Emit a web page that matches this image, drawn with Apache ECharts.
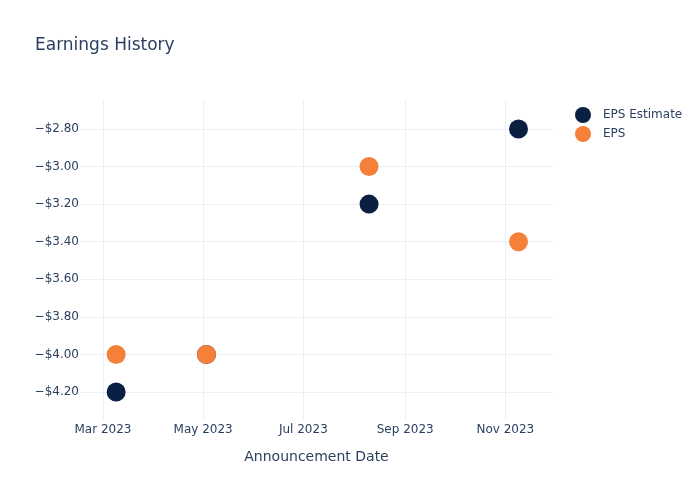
<!DOCTYPE html>
<html>
<head>
<meta charset="utf-8">
<script src="https://cdn.jsdelivr.net/npm/echarts@6/dist/echarts.min.js"></script>
<style>html,body{margin:0;padding:0;background:#fff}#c{width:700px;height:500px}</style>
</head>
<body>
<div id="c"></div>
<script>
var dates = ['2023-03-09', '2023-05-03', '2023-08-10', '2023-11-09'];
var epsEstimate = [-4.2, -4.0, -3.2, -2.8];
var eps = [-4.0, -4.0, -3.0, -3.4];
var seriesNames = ['EPS Estimate', 'EPS'];

var FONT = 'DejaVu Sans, Verdana, sans-serif';
var TXT = '#2a3f5f';
var GRID = '#ebf0f8';
var NONE = 'rgba(0,0,0,0)';

function pairs(vals) {
  return dates.map(function (d, i) { return [d, vals[i]]; });
}
function money(v) {
  var s = '$' + Math.abs(v).toFixed(2);
  return v < 0 ? '\u2212' + s : s;
}

var chart = echarts.init(document.getElementById('c'), null, { renderer: 'canvas' });
chart.setOption({
  backgroundColor: '#fff',
  animation: false,
  title: {
    text: 'Earnings History',
    left: 35, top: 37, padding: 0,
    textStyle: { fontFamily: FONT, fontSize: 17, fontWeight: 'normal', color: TXT }
  },
  legend: {
    orient: 'vertical',
    left: 575, top: 107, padding: 0,
    itemWidth: 16, itemHeight: 16, itemGap: 3,
    icon: 'circle',
    textStyle: { fontFamily: FONT, fontSize: 12, color: TXT, padding: [0, 0, 0, 7] },
    data: seriesNames
  },
  grid: { left: 80, right: 147, top: 100, bottom: 80, containLabel: false },
  xAxis: {
    type: 'time',
    min: '2023-02-15',
    max: '2023-11-30',
    splitNumber: 4,
    name: 'Announcement Date',
    nameLocation: 'middle',
    nameGap: 30,
    nameTextStyle: { fontFamily: FONT, fontSize: 14, color: TXT },
    axisLine: { show: false },
    axisTick: { show: false },
    axisLabel: {
      fontFamily: FONT, fontSize: 12, color: TXT, margin: 4,
      formatter: '{MMM} {yyyy}',
      showMinLabel: false, showMaxLabel: false
    },
    splitLine: { show: true, lineStyle: { color: [NONE, GRID, GRID, GRID, GRID, GRID, NONE], width: 1 } }
  },
  yAxis: {
    type: 'value',
    min: -4.349,
    max: -2.646,
    splitNumber: 8,
    axisLine: { show: false },
    axisTick: { show: false },
    axisLabel: {
      fontFamily: FONT, fontSize: 12, color: TXT, margin: 1,
      showMinLabel: false, showMaxLabel: false,
      formatter: function (v) { return money(v); }
    },
    splitLine: {
      show: true,
      lineStyle: { color: [NONE, GRID, GRID, GRID, GRID, GRID, GRID, GRID, GRID, NONE], width: 1 }
    }
  },
  series: [
    {
      name: seriesNames[0], type: 'scatter', symbol: 'circle', symbolSize: 19,
      itemStyle: { color: '#0b1f42', opacity: 1 },
      data: pairs(epsEstimate)
    },
    {
      name: seriesNames[1], type: 'scatter', symbol: 'circle', symbolSize: 19,
      itemStyle: { color: '#f5803a', opacity: 1 },
      data: pairs(eps)
    }
  ]
});
</script>
</body>
</html>
